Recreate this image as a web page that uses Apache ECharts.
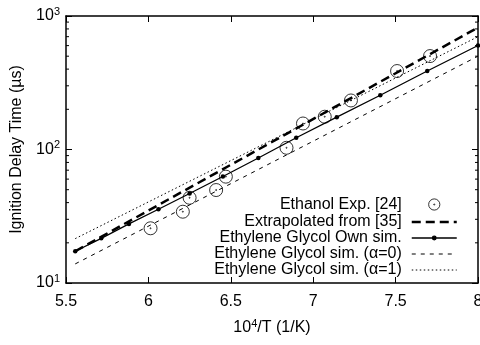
<!DOCTYPE html>
<html>
<head>
<meta charset="utf-8">
<script src="https://cdn.jsdelivr.net/npm/echarts@6/dist/echarts.min.js"></script>
<style>html,body{margin:0;padding:0;background:#fff}#c{width:480px;height:345px}</style>
</head>
<body>
<div id="c"></div>
<script>
// ---- data ----
const seriesNames = ['Ethanol Exp. [24]', 'Extrapolated from [35]', 'Ethylene Glycol Own sim.', 'Ethylene Glycol sim. (\u03b1=0)', 'Ethylene Glycol sim. (\u03b1=1)'];
const expX = [6.013, 6.209, 6.250, 6.411, 6.470, 6.838, 6.938, 7.070, 7.229, 7.509, 7.709];
const expY = [25.7, 34.2, 43.5, 49.7, 62.6, 103, 156.6, 176, 233, 387, 501];
const simX = [5.556, 5.714, 5.882, 6.061, 6.25, 6.452, 6.667, 6.897, 7.143, 7.407, 7.692, 8.0];
const simY = [17.3, 21.6, 27.7, 35.7, 46.8, 62.8, 86.4, 122.4, 174.6, 255, 387, 601];
const extrapX = [5.556, 8.0];
const extrapY = [17.3, 820];
const alpha0X = [5.556, 8.0];
const alpha0Y = [13.9, 500];
const alpha1X = [5.556, 8.0];
const alpha1Y = [21.5, 700];
const xMin = 5.5, xMax = 8, xStep = 0.5;
const yMin = 10, yMax = 1000;
const yMinorTicks = [20, 30, 40, 50, 60, 70, 80, 90, 200, 300, 400, 500, 600, 700, 800, 900];

const zip = (xs, ys) => xs.map((x, i) => [x, ys[i]]);
const FONT = 'Liberation Sans';
const FS = 16;
const supRich = {
  b: { fontSize: FS, fontFamily: FONT, color: '#000' },
  s: { fontSize: 11, fontFamily: FONT, color: '#000', padding: [0, 0, 9, 0] }
};
const axisLine = { show: true, onZero: false, lineStyle: { color: '#000', width: 1.5 } };

const circDot = 'path://M0,-10A10,10,0,1,1,0,10A10,10,0,1,1,0,-10ZM0.8,0A0.8,0.8,0,1,1,-0.8,0A0.8,0.8,0,1,1,0.8,0Z';
const legendCircDot = 'path://M0,-12.5M0,12.5M0,-10A10,10,0,1,1,0,10A10,10,0,1,1,0,-10ZM1,0A1,1,0,1,1,-1,0A1,1,0,1,1,1,0Z';
const legendLineDot = 'path://M0,-7M45,7M0,0L45,0M24.3,0A1.8,1.8,0,1,1,20.7,0A1.8,1.8,0,1,1,24.3,0Z';

const chart = echarts.init(document.getElementById('c'), null, { renderer: 'canvas' });
chart.setOption({
  animation: false,
  backgroundColor: '#fff',
  grid: { left: 66, right: 2, top: 16, bottom: 62, containLabel: false, outerBoundsMode: 'none' },
  xAxis: [{
    type: 'value', min: xMin, max: xMax, interval: xStep, position: 'bottom',
    axisLine: axisLine,
    axisTick: { show: true, inside: true, length: 6, lineStyle: { color: '#000', width: 1 } },
    axisLabel: { color: '#000', fontSize: FS, fontFamily: FONT, margin: 11 },
    splitLine: { show: false },
    name: '{b|10}{s|4}{b|/T (1/K)}', nameLocation: 'middle', nameGap: 35,
    nameTextStyle: { rich: supRich, fontSize: FS, fontFamily: FONT, color: '#000' }
  }, {
    type: 'value', min: xMin, max: xMax, interval: xStep, position: 'top',
    axisLine: axisLine,
    axisTick: { show: true, inside: true, length: 6, lineStyle: { color: '#000', width: 1 } },
    axisLabel: { show: false }, splitLine: { show: false }
  }],
  yAxis: [{
    type: 'log', logBase: 10, min: yMin, max: yMax, position: 'left',
    axisLine: axisLine,
    axisTick: { show: true, inside: true, length: 6, lineStyle: { color: '#000', width: 1 } },
    axisLabel: {
      color: '#000', margin: 6,
      formatter: v => '{b|10}{s|' + Math.round(Math.log10(v)) + '}',
      rich: supRich
    },
    splitLine: { show: false },
    name: 'Ignition Delay Time (\u00b5s)', nameLocation: 'middle', nameGap: 41,
    nameTextStyle: { fontSize: FS, fontFamily: FONT, color: '#000' }
  }, {
    type: 'log', logBase: 10, min: yMin, max: yMax, position: 'right',
    axisLine: axisLine,
    axisTick: { show: true, inside: true, length: 6, lineStyle: { color: '#000', width: 1 } },
    axisLabel: { show: false }, splitLine: { show: false }
  }],
  legend: {
    orient: 'vertical', align: 'right', right: 22, top: 195, padding: 0,
    itemWidth: 45, itemHeight: 14, itemGap: 0, selectedMode: false,
    textStyle: { fontSize: FS, fontFamily: FONT, color: '#000', lineHeight: 16, padding: [0, 5, 0, 0] },
    data: [
      { name: seriesNames[0], icon: legendCircDot, itemStyle: { color: 'none', borderColor: '#000', borderWidth: 1 } },
      { name: seriesNames[1], itemStyle: { opacity: 0 }, lineStyle: { width: 2.5 } },
      { name: seriesNames[2], icon: legendLineDot, itemStyle: { color: '#000', borderColor: '#000', borderWidth: 1.3 } },
      { name: seriesNames[3], itemStyle: { opacity: 0 }, lineStyle: { width: 1 } },
      { name: seriesNames[4], itemStyle: { opacity: 0 }, lineStyle: { width: 1 } }
    ]
  },
  series: [
    {
      name: seriesNames[0], type: 'scatter', data: zip(expX, expY),
      symbol: circDot, symbolSize: 13, symbolKeepAspect: true,
      itemStyle: { color: 'none', borderColor: '#000', borderWidth: 1 }, z: 5
    },
    {
      name: seriesNames[1], type: 'line', data: zip(extrapX, extrapY), showSymbol: false, symbol: 'none',
      lineStyle: { color: '#000', width: 2.5, type: [9, 5] }, itemStyle: { color: '#000' }
    },
    {
      name: seriesNames[2], type: 'line', data: zip(simX, simY), symbol: 'circle', symbolSize: 4.5,
      lineStyle: { color: '#000', width: 1.3 }, itemStyle: { color: '#000' }
    },
    {
      name: seriesNames[3], type: 'line', data: zip(alpha0X, alpha0Y), showSymbol: false, symbol: 'none',
      lineStyle: { color: '#000', width: 1, type: [4, 5] }, itemStyle: { color: '#000' }
    },
    {
      name: seriesNames[4], type: 'line', data: zip(alpha1X, alpha1Y), showSymbol: false, symbol: 'none',
      lineStyle: { color: '#000', width: 1, type: [1.5, 2.5] }, itemStyle: { color: '#000' }
    },
    {
      type: 'custom', silent: true, clip: false,
      data: yMinorTicks.map(v => [xMin, v]),
      renderItem: (params, api) => {
        const v = api.value(1);
        const pl = api.coord([xMin, v]);
        const pr = api.coord([xMax, v]);
        const st = { stroke: '#000', lineWidth: 1 };
        return {
          type: 'group', children: [
            { type: 'line', shape: { x1: pl[0], y1: pl[1], x2: pl[0] + 3, y2: pl[1] }, style: st },
            { type: 'line', shape: { x1: pr[0], y1: pr[1], x2: pr[0] - 3, y2: pr[1] }, style: st }
          ]
        };
      }
    }
  ]
});
</script>
</body>
</html>
